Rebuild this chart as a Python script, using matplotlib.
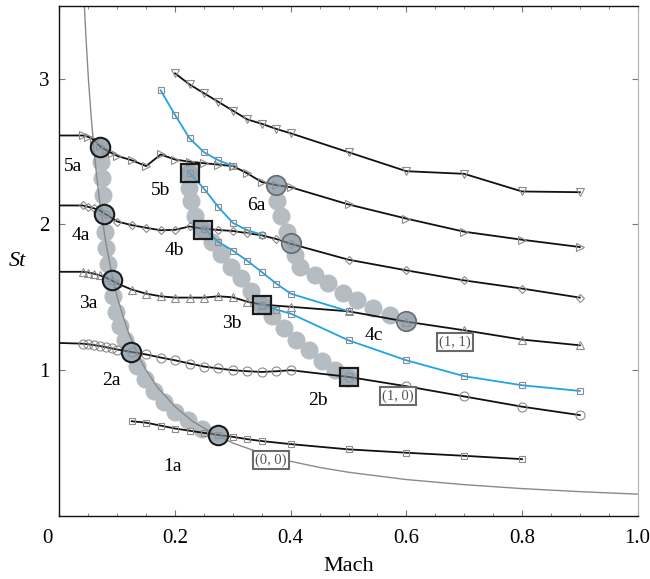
import matplotlib
matplotlib.use('Agg')
import matplotlib.pyplot as plt
import matplotlib.transforms as mtransforms
from matplotlib.ticker import MultipleLocator

plt.rcParams['font.family'] = ['Liberation Serif', 'DejaVu Serif']
plt.rcParams['mathtext.fontset'] = 'stix'

# thin reference curve
M_ref = [0.043, 0.046, 0.05, 0.055, 0.06, 0.065, 0.07, 0.08, 0.09, 0.1, 0.11, 0.12, 0.13, 0.14, 0.15,
         0.17, 0.2, 0.23, 0.26, 0.3, 0.35, 0.4, 0.45, 0.5, 0.6, 0.7, 0.8, 0.9, 1.0]
St_ref = [3.5, 3.27, 3.0, 2.73, 2.5, 2.31, 2.14, 1.88, 1.67, 1.5, 1.37, 1.25, 1.16, 1.07, 1.0,
          0.88, 0.75, 0.65, 0.58, 0.5, 0.43, 0.375, 0.333, 0.3, 0.25, 0.215, 0.188, 0.167, 0.15]

# black branches
M1 = [0.125, 0.15, 0.175, 0.2, 0.225, 0.25, 0.275, 0.3, 0.325, 0.35, 0.4, 0.5, 0.6, 0.7, 0.8]
St1 = [0.65, 0.64, 0.62, 0.60, 0.585, 0.57, 0.556, 0.543, 0.527, 0.514, 0.493, 0.457, 0.434, 0.413, 0.39]

M2 = [0, 0.04, 0.05, 0.06, 0.07, 0.08, 0.09, 0.10, 0.125, 0.15, 0.175, 0.2, 0.225, 0.25, 0.275, 0.3,
      0.325, 0.35, 0.375, 0.4, 0.5, 0.6, 0.7, 0.8, 0.9]
St2 = [1.187, 1.182, 1.178, 1.172, 1.166, 1.158, 1.15, 1.142, 1.125, 1.108, 1.087, 1.068, 1.046, 1.025,
       1.012, 1.0, 0.993, 0.988, 0.993, 1.0, 0.954, 0.89, 0.82, 0.75, 0.692]

M3 = [0, 0.04, 0.05, 0.06, 0.07, 0.08, 0.09, 0.1, 0.125, 0.15, 0.175, 0.2, 0.225, 0.25, 0.275, 0.3,
      0.325, 0.35, 0.4, 0.5, 0.6, 0.7, 0.8, 0.9]
St3 = [1.675, 1.675, 1.67, 1.662, 1.65, 1.636, 1.616, 1.595, 1.553, 1.525, 1.507, 1.498, 1.498, 1.498,
       1.507, 1.50, 1.47, 1.45, 1.435, 1.404, 1.333, 1.274, 1.21, 1.171]

M4 = [0, 0.04, 0.05, 0.06, 0.07, 0.08, 0.1, 0.125, 0.15, 0.175, 0.2, 0.225, 0.25, 0.275, 0.3, 0.325,
      0.35, 0.375, 0.4, 0.5, 0.6, 0.7, 0.8, 0.9]
St4 = [2.13, 2.13, 2.12, 2.11, 2.095, 2.07, 2.02, 1.995, 1.977, 1.96, 1.963, 1.986, 1.97, 1.962, 1.955,
       1.94, 1.925, 1.90, 1.867, 1.758, 1.685, 1.616, 1.56, 1.498]

M5 = [0, 0.04, 0.05, 0.06, 0.07, 0.08, 0.09, 0.1, 0.125, 0.15, 0.175, 0.2, 0.225, 0.25, 0.275, 0.3,
      0.325, 0.35, 0.375, 0.4, 0.5, 0.6, 0.7, 0.8, 0.9]
St5 = [2.61, 2.61, 2.60, 2.58, 2.535, 2.51, 2.49, 2.47, 2.44, 2.40, 2.48, 2.445, 2.43, 2.42, 2.41, 2.40,
       2.35, 2.29, 2.27, 2.255, 2.137, 2.04, 1.95, 1.895, 1.845]

M6 = [0.2, 0.225, 0.25, 0.275, 0.3, 0.325, 0.35, 0.375, 0.4, 0.5, 0.6, 0.7, 0.8, 0.9]
St6 = [3.036, 2.96, 2.90, 2.84, 2.78, 2.72, 2.69, 2.655, 2.625, 2.495, 2.365, 2.347, 2.226, 2.221]

# blue branches
Mb1 = [0.175, 0.2, 0.225, 0.25, 0.275, 0.3]
Stb1 = [2.92, 2.75, 2.59, 2.495, 2.44, 2.40]
Mb2 = [0.225, 0.25, 0.275, 0.3, 0.325, 0.35]
Stb2 = [2.354, 2.245, 2.118, 2.01, 1.96, 1.93]
Mb3 = [0.25, 0.275, 0.3, 0.325, 0.35, 0.375, 0.4, 0.5]
Stb3 = [1.97, 1.88, 1.82, 1.75, 1.673, 1.594, 1.525, 1.404]
Mb4 = [0.35, 0.375, 0.4, 0.5, 0.6, 0.7, 0.8, 0.9]
Stb4 = [1.45, 1.416, 1.388, 1.205, 1.068, 0.959, 0.897, 0.858]

# grey dot chains
M_A = [0.070, 0.072, 0.074, 0.075, 0.077, 0.079, 0.080, 0.084, 0.089, 0.093, 0.098, 0.105, 0.113, 0.124,
       0.134, 0.148, 0.164, 0.181, 0.200, 0.222, 0.247, 0.274]
St_A = [2.53, 2.43, 2.32, 2.20, 2.07, 1.95, 1.84, 1.73, 1.62, 1.51, 1.40, 1.30, 1.21, 1.12, 1.03, 0.94,
        0.86, 0.78, 0.71, 0.66, 0.60, 0.56]
M_B = [0.224, 0.224, 0.228, 0.234, 0.248, 0.264, 0.279, 0.297, 0.314, 0.331, 0.350, 0.368, 0.388, 0.409,
       0.432, 0.454, 0.477, 0.499]
St_B = [2.35, 2.25, 2.16, 2.06, 1.96, 1.88, 1.80, 1.71, 1.63, 1.54, 1.45, 1.37, 1.29, 1.21, 1.14, 1.06,
        1.00, 0.95]
M_C = [0.375, 0.376, 0.383, 0.394, 0.402, 0.407, 0.416, 0.442, 0.465, 0.491, 0.515, 0.542, 0.572, 0.601]
St_C = [2.27, 2.16, 2.06, 1.95, 1.87, 1.79, 1.71, 1.65, 1.60, 1.53, 1.48, 1.43, 1.38, 1.34]

# saddle points
a_M = [0.070, 0.077, 0.090, 0.124, 0.275]
a_St = [2.53, 2.07, 1.616, 1.125, 0.556]
c_M = [0.375, 0.40, 0.60]
c_St = [2.27, 1.87, 1.335]
b_M = [0.225, 0.249, 0.35, 0.50]
b_St = [2.354, 1.965, 1.45, 0.954]

labels = ['5a', '5b', '6a', '4a', '4b', '3a', '3b', '2a', '4c', '2b', '1a']
label_M = [0.024, 0.174, 0.340, 0.037, 0.198, 0.049, 0.298, 0.089, 0.544, 0.447, 0.196]
label_St = [2.40, 2.23, 2.13, 1.925, 1.82, 1.46, 1.32, 0.93, 1.24, 0.79, 0.34]

modes = ['(0, 0)', '(1, 0)', '(1, 1)']
mode_M = [0.366, 0.586, 0.684]
mode_St = [0.384, 0.822, 1.192]

fig = plt.figure(figsize=(6.5, 5.79), dpi=100)
ax = fig.add_axes([0.0915, 0.1088, 0.8895, 0.8813])

dotc = '#b5bdc3'
for mm, ss in [(M_A, St_A), (M_B, St_B), (M_C, St_C)]:
    ax.plot(mm, ss, 'o', ms=13, color=dotc, mec='none', zorder=1)

ax.plot(M_ref, St_ref, color='#8a8a8a', lw=1.0, zorder=1.5)

mk = dict(mfc='none', mec='#8c8c8c', mew=0.8, ls='none', zorder=2.5)
for mm, ss, m, s in [(M1, St1, 's', 5), (M2, St2, 'o', 6.5), (M3, St3, '^', 5.5),
                     (M4, St4, 'D', 4.5), (M5, St5, '>', 5.5), (M6, St6, 'v', 5.5)]:
    ax.plot(mm, ss, color='#111111', lw=1.3, zorder=2)
    if mm[0] == 0:
        ax.plot(mm[1:], ss[1:], marker=m, ms=s, **mk)
    else:
        ax.plot(mm, ss, marker=m, ms=s, **mk)

for mm, ss in [(Mb1, Stb1), (Mb2, Stb2), (Mb3, Stb3), (Mb4, Stb4)]:
    ax.plot(mm, ss, color='#1fa3e8', lw=1.3, zorder=2.2)
    ax.plot(mm, ss, marker='s', ms=5, **mk)

ax.plot(a_M, a_St, 'o', ms=14, mfc=(0.55, 0.61, 0.66, 0.55), mec='#1a1a1a', mew=1.5, ls='none', zorder=4)
ax.plot(c_M, c_St, 'o', ms=14, mfc=(0.55, 0.61, 0.66, 0.55), mec='#6e6e6e', mew=1.3, ls='none', zorder=4)
ax.plot(b_M, b_St, 's', ms=13, mfc=(0.55, 0.61, 0.66, 0.55), mec='#1a1a1a', mew=1.6, ls='none', zorder=4)

for t, x, y in zip(labels, label_M, label_St):
    ax.text(x, y, t, fontsize=14, ha='center', va='center', zorder=5)

for t, x, y in zip(modes, mode_M, mode_St):
    ax.text(x, y, t, fontsize=10.5, color='#555555', ha='center', va='center', zorder=6,
            bbox=dict(boxstyle='square,pad=0.15', fc='white', ec='#6a6a6a', lw=1.5))

ax.set_xlim(0, 1)
ax.set_ylim(0, 3.5)
ax.set_xticks([0, 0.2, 0.4, 0.6, 0.8, 1.0])
ax.set_xticklabels(['0', '0.2', '0.4', '0.6', '0.8', '1.0'])
ax.xaxis.set_minor_locator(MultipleLocator(0.05))
ax.set_yticks([1, 2, 3])
ax.tick_params(which='both', direction='in', top=True, right=True, color='#777777', labelsize=15)
ax.tick_params(which='major', length=4, width=0.8)
ax.tick_params(which='minor', length=2.5, width=0.6)
ax.tick_params(axis='x', pad=9)
ax.tick_params(axis='y', pad=7)

# the "0" label sits a little left of the corner
zero = ax.get_xticklabels()[0]
zero.set_transform(zero.get_transform() + mtransforms.ScaledTranslation(-12 / 100, 0, fig.dpi_scale_trans))

for s in ['left', 'bottom', 'top']:
    ax.spines[s].set_color('#111111')
    ax.spines[s].set_linewidth(1.0)
ax.spines['right'].set_color('#b0b0b0')

ax.set_xlabel('Mach', fontsize=16)
ax.xaxis.set_label_coords(0.5, -0.08)
ax.set_ylabel('St', fontsize=16, style='italic', rotation=0, ha='center', va='center')
ax.yaxis.set_label_coords(-0.072, 0.498)

fig.savefig('out.png', dpi=100)
